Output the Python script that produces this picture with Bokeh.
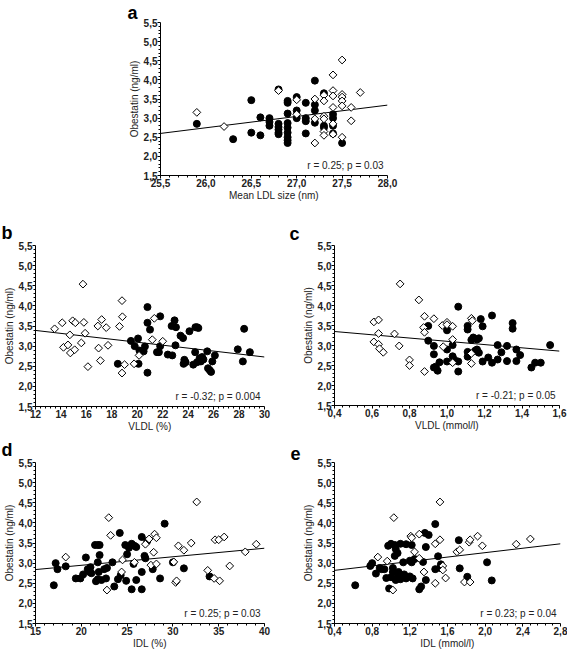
import numpy as np
from bokeh.plotting import figure
from bokeh.models import Range1d, FixedTicker, Label, Title
from bokeh.layouts import column, row
from bokeh.embed import file_html
from bokeh.resources import INLINE

FONT = "Liberation Sans"

# ---------------- shared y axis ----------------
y_ticks = [1.5, 2.0, 2.5, 3.0, 3.5, 4.0, 4.5, 5.0, 5.5]
y_tick_labels = ["1,5", "2,0", "2,5", "3,0", "3,5", "4,0", "4,5", "5,0", "5,5"]
y_title = "Obestatin (ng/ml)"

# ---------------- panel a: Mean LDL size ----------------
a_xticks = [25.5, 26.0, 26.5, 27.0, 27.5, 28.0]
a_xlabels = ["25,5", "26,0", "26,5", "27,0", "27,5", "28,0"]
a_xtitle = "Mean LDL size (nm)"
a_stat = "r = 0.25; p = 0.03"
a_fill_x = [25.9, 26.3, 26.5, 26.5, 26.6, 26.6, 26.7, 26.7, 26.7, 26.8, 26.8, 26.8, 26.8, 26.8, 26.8,
            26.9, 26.9, 26.9, 26.9, 26.9, 26.9, 26.9, 26.9, 26.9, 27.0, 27.0, 27.0, 27.1, 27.1, 27.1, 27.1,
            27.2, 27.2, 27.2, 27.2, 27.3, 27.3, 27.3, 27.4, 27.4, 27.4, 27.4, 27.5]
a_fill_y = [2.85, 2.45, 3.47, 2.62, 3.02, 2.55, 3.0, 2.9, 2.8, 3.75, 2.85, 2.77, 2.7, 2.62, 2.58,
            3.45, 3.4, 3.12, 2.87, 2.75, 2.62, 2.5, 2.42, 2.35, 3.55, 3.2, 3.0, 3.4, 3.0, 2.92, 2.6,
            3.98, 3.35, 3.2, 2.88, 3.65, 2.8, 2.75, 3.1, 3.0, 2.8, 2.6, 2.35]
a_open_x = [25.9, 26.2, 26.8, 27.0, 27.0, 27.2, 27.2, 27.2, 27.3, 27.3, 27.3, 27.3, 27.3, 27.3,
            27.4, 27.4, 27.4, 27.4, 27.4, 27.4, 27.5, 27.5, 27.5, 27.5, 27.5, 27.5, 27.6, 27.6, 27.7]
a_open_y = [3.15, 2.78, 3.72, 3.48, 3.1, 3.5, 2.98, 2.35, 3.6, 3.45, 3.05, 2.98, 2.65, 2.55,
            4.13, 3.72, 3.58, 3.28, 2.85, 2.58, 4.52, 3.62, 3.55, 3.45, 3.32, 2.5, 3.28, 2.93, 3.67]
a_fit_x = [25.5, 28.0]
a_fit_y = [2.60, 3.34]

# ---------------- panel b: VLDL (%) ----------------
b_xticks = [12, 14, 16, 18, 20, 22, 24, 26, 28, 30]
b_xlabels = ["12", "14", "16", "18", "20", "22", "24", "26", "28", "30"]
b_xtitle = "VLDL (%)"
b_stat = "r = -0.32; p = 0.004"
b_open_x = [13.5, 14.1, 14.2, 14.55, 14.7, 14.74, 14.92, 15.13, 15.08, 15.73, 15.6, 15.8, 15.9, 16.12,
            16.9, 16.96, 17.2, 17.1, 17.56, 17.7, 18.6, 18.8, 18.83, 18.8, 19.0, 19.75, 20.14, 21.18,
            21.34, 22.0]
b_open_y = [3.43, 3.58, 2.97, 3.03, 3.28, 2.83, 3.63, 3.58, 2.91, 4.54, 3.08, 3.59, 3.32, 2.49,
            3.5, 2.95, 3.66, 2.64, 3.46, 3.02, 3.49, 4.13, 3.73, 2.33, 2.54, 2.56, 2.77, 3.16,
            3.69, 3.12]
b_fill_x = [18.47, 19.5, 19.8, 20.06, 20.1, 20.17, 20.5, 20.6, 20.8, 20.8, 20.8, 21.0, 21.55, 21.7,
            21.8, 21.8, 22.4, 22.75, 22.7, 22.93, 23.04, 23.0, 23.4, 23.6, 23.7, 23.64, 23.8, 24.1,
            24.4, 24.55, 24.57, 24.7, 24.8, 24.7, 24.9, 25.0, 25.1, 25.2, 25.5, 25.56, 25.7, 25.8,
            25.9, 26.1, 27.9, 28.3, 28.4, 28.85]
b_fill_y = [2.56, 3.13, 3.0, 3.19, 2.56, 2.89, 2.87, 2.99, 3.97, 3.58, 2.34, 3.41, 2.85, 2.85,
            3.74, 3.0, 2.79, 2.77, 3.5, 3.64, 3.47, 3.02, 3.26, 3.2, 2.66, 2.56, 2.6, 3.37,
            2.54, 2.85, 3.47, 3.47, 3.45, 2.6, 2.7, 2.62, 2.73, 2.67, 2.87, 2.45, 2.4, 2.36,
            2.62, 2.77, 2.92, 2.62, 3.43, 2.85]
b_fit_x = [12, 30]
b_fit_y = [3.39, 2.73]

# ---------------- panel c: VLDL (mmol/l) ----------------
c_xticks = [0.4, 0.6, 0.8, 1.0, 1.2, 1.4, 1.6]
c_xlabels = ["0,4", "0,6", "0,8", "1,0", "1,2", "1,4", "1,6"]
c_xtitle = "VLDL (mmol/l)"
c_stat = "r = -0.21; p = 0.05"
c_open_x = [0.61, 0.635, 0.635, 0.61, 0.635, 0.64, 0.66, 0.72, 0.745, 0.75, 0.80, 0.80, 0.85,
            0.88, 0.93, 0.875, 0.88, 0.88, 0.98, 0.975, 1.0, 1.0, 1.03, 1.03, 1.03, 1.13, 1.135,
            1.13, 1.13]
c_open_y = [3.59, 3.64, 3.3, 3.09, 3.03, 2.92, 2.83, 3.29, 2.99, 4.54, 2.64, 2.5, 4.14,
            3.73, 3.67, 3.45, 3.33, 2.35, 2.97, 3.5, 3.58, 3.52, 3.48, 3.15, 2.57, 3.68, 3.62,
            2.55, 2.8]
c_fill_x = [0.9, 0.9, 0.93, 0.93, 0.93, 0.94, 0.95, 0.96, 1.0, 1.0, 1.0, 1.03, 1.03, 1.04, 1.06,
            1.06, 1.06, 1.11, 1.11, 1.11, 1.11, 1.13, 1.14, 1.15, 1.16, 1.16, 1.17, 1.17, 1.18,
            1.19, 1.19, 1.22, 1.24, 1.24, 1.27, 1.27, 1.29, 1.32, 1.32, 1.35, 1.35, 1.37, 1.37,
            1.39, 1.45, 1.47, 1.50, 1.55]
c_fill_y = [3.49, 3.12, 2.99, 2.78, 2.45, 2.47, 2.37, 2.58, 3.38, 2.9, 2.6, 3.01, 2.73, 2.64, 3.97,
            2.6, 2.35, 3.49, 3.4, 2.84, 2.72, 3.14, 3.2, 2.87, 3.15, 2.9, 2.82, 3.18, 3.66,
            3.48, 2.6, 2.7, 3.75, 2.57, 3.01, 2.65, 2.83, 2.99, 2.61, 3.56, 3.42, 2.9, 2.61,
            2.76, 2.45, 2.57, 2.57, 3.01]
c_fit_x = [0.4, 1.6]
c_fit_y = [3.35, 2.86]

# ---------------- panel d: IDL (%) ----------------
d_xticks = [15, 20, 25, 30, 35, 40]
d_xlabels = ["15", "20", "25", "30", "35", "40"]
d_xtitle = "IDL (%)"
d_stat = "r = 0.25; p = 0.03"
d_fill_x = [17.0, 17.2, 17.4, 18.3, 19.4, 19.9, 20.2, 20.5, 20.7, 20.9, 21.0, 21.1, 21.5, 21.6,
            21.8, 22.0, 21.8, 21.8, 21.9, 22.0, 22.2, 22.5, 22.8, 22.7, 23.4, 23.6, 24.0, 24.2,
            24.3, 24.8, 24.9, 25.0, 25.2, 25.5, 25.5, 25.8, 25.7, 26.0, 26.0, 26.6, 26.6, 26.6,
            26.9, 27.0, 27.2, 27.8, 28.6, 29.1, 30.0, 31.2, 34.0]
d_fill_y = [2.45, 3.0, 2.85, 2.92, 2.62, 2.62, 2.72, 3.14, 2.85, 2.78, 2.9, 2.75, 3.45, 2.55,
            3.45, 3.45, 2.6, 3.02, 2.78, 3.2, 2.58, 2.85, 2.88, 2.62, 3.02, 2.42, 2.6, 3.75,
            2.7, 3.45, 2.56, 3.22, 3.38, 3.48, 2.35, 3.43, 2.98, 2.58, 3.4, 2.78, 2.35, 3.65,
            3.18, 3.12, 3.55, 2.85, 2.62, 3.98, 3.02, 2.87, 2.67]
d_open_x = [18.3, 22.8, 23.0, 23.2, 24.4, 24.5, 25.8, 27.0, 27.4, 27.6, 27.9, 28.0, 28.2, 28.2,
            30.1, 30.3, 30.4, 30.6, 31.2, 32.0, 32.6, 33.8, 34.5, 34.6, 35.0, 35.1, 35.6, 36.2,
            37.9, 39.1]
d_open_y = [3.15, 2.33, 4.13, 3.69, 2.78, 3.08, 3.02, 3.47, 3.6, 2.95, 3.27, 3.72, 3.63, 2.98,
            3.03, 2.52, 2.56, 3.43, 3.32, 3.5, 4.52, 2.82, 2.62, 3.58, 3.58, 2.56, 3.65, 2.93,
            3.28, 3.47]
d_fit_x = [15, 40]
d_fit_y = [2.84, 3.37]

# ---------------- panel e: IDL (mmol/l) ----------------
e_xticks = [0.4, 0.8, 1.2, 1.6, 2.0, 2.4, 2.8]
e_xlabels = ["0,4", "0,8", "1,2", "1,6", "2,0", "2,4", "2,8"]
e_xtitle = "IDL (mmol/l)"
e_stat = "r = 0.23; p = 0.04"
e_fill_x = [0.62, 0.78, 0.80, 0.84, 0.88, 0.90, 0.93, 0.95, 0.97, 0.98, 1.0, 1.0, 1.02, 1.02,
            1.04, 1.04, 1.05, 1.05, 1.07, 1.07, 1.08, 1.1, 1.1, 1.13, 1.14, 1.16, 1.16, 1.2, 1.2,
            1.22, 1.23, 1.22, 1.25, 1.3, 1.32, 1.34, 1.36, 1.37, 1.37, 1.4, 1.47, 1.47, 1.5, 1.53,
            1.52, 1.72, 1.73, 1.81, 2.02, 2.07]
e_fill_y = [2.45, 2.93, 3.0, 2.74, 2.88, 2.85, 2.85, 2.63, 3.43, 2.37, 2.65, 3.48, 2.88, 2.78,
            3.45, 3.18, 3.35, 2.58, 3.25, 2.68, 2.78, 3.48, 2.6, 3.02, 2.72, 3.47, 2.62, 3.06, 2.67,
            3.45, 2.62, 3.02, 3.1, 2.35, 2.42, 3.03, 3.75, 3.4, 2.58, 3.7, 3.97, 2.85, 3.17, 2.97,
            2.88, 3.57, 2.87, 2.66, 3.02, 2.57]
e_open_x = [0.86, 0.96, 1.03, 1.02, 1.21, 1.22, 1.25, 1.3, 1.3, 1.35, 1.47, 1.47, 1.52, 1.52,
            1.55, 1.55, 1.58, 1.7, 1.73, 1.78, 1.83, 1.84, 1.84, 1.92, 1.97, 2.33, 2.48]
e_open_y = [3.15, 3.05, 4.13, 2.33, 3.67, 3.63, 3.28, 3.72, 3.12, 2.78, 3.48, 2.5, 4.52, 3.58,
            2.93, 2.83, 2.63, 3.28, 3.33, 2.53, 3.52, 3.58, 2.53, 3.67, 3.43, 3.47, 3.6]
e_fit_x = [0.4, 2.8]
e_fit_y = [2.82, 3.48]


def make_panel(letter, letter_offset, letter_standoff, xticks, xlabels, xtitle, stat,
               fill_x, fill_y, open_x, open_y, fit_x, fit_y,
               fw, fh, bl, br, bt, bb):
    p = figure(frame_width=fw, frame_height=fh,
               min_border_left=bl, min_border_right=br, min_border_top=bt, min_border_bottom=bb,
               x_range=Range1d(xticks[0], xticks[-1]), y_range=Range1d(y_ticks[0], y_ticks[-1]),
               output_backend="svg", toolbar_location=None)
    p.title = Title(text=letter, align="left", offset=letter_offset, standoff=letter_standoff,
                    text_font=FONT, text_font_size="18px", text_font_style="bold",
                    text_color="black")
    p.outline_line_color = None
    p.grid.visible = False
    p.background_fill_color = "white"
    p.border_fill_color = "white"

    xstep = xticks[1] - xticks[0]
    xminor = list(np.arange(xticks[0], xticks[-1] + 1e-9, xstep / 5))
    ystep = y_ticks[1] - y_ticks[0]
    yminor = list(np.arange(y_ticks[0], y_ticks[-1] + 1e-9, ystep / 5))
    p.xaxis.ticker = FixedTicker(ticks=xticks, minor_ticks=xminor)
    p.yaxis.ticker = FixedTicker(ticks=y_ticks, minor_ticks=yminor)
    p.xaxis.major_label_overrides = {float(t): l for t, l in zip(xticks, xlabels)}
    p.xaxis.major_label_overrides.update({int(t): l for t, l in zip(xticks, xlabels) if float(t).is_integer()})
    p.yaxis.major_label_overrides = {float(t): l for t, l in zip(y_ticks, y_tick_labels)}
    p.xaxis.axis_label = xtitle
    p.yaxis.axis_label = y_title
    for ax in (p.xaxis, p.yaxis):
        ax.axis_line_color = "black"
        ax.axis_line_width = 1
        ax.major_tick_line_color = "black"
        ax.minor_tick_line_color = "black"
        ax.major_tick_out = 3
        ax.major_tick_in = 0
        ax.minor_tick_out = 2
        ax.minor_tick_in = 0
        ax.major_label_text_font = FONT
        ax.major_label_text_font_size = "10px"
        ax.major_label_text_font_style = "bold"
        ax.major_label_text_color = "#222222"
        ax.axis_label_text_font = FONT
        ax.axis_label_text_font_size = "10px"
        ax.axis_label_text_font_style = "normal"
        ax.axis_label_text_color = "#222222"
        ax.major_label_standoff = 0
        ax.axis_label_standoff = 1
    p.xaxis.axis_label_standoff = 0
    p.yaxis.major_label_orientation = "horizontal"

    p.line(fit_x, fit_y, line_color="black", line_width=1)
    p.scatter(fill_x, fill_y, marker="circle", size=7, fill_color="black", line_color="black")
    p.scatter(open_x, open_y, marker="square", size=5.5, angle=np.pi / 4,
              fill_color="white", line_color="black", line_width=1)

    p.add_layout(Label(x=xticks[-1], y=y_ticks[0], x_offset=-4, y_offset=5, text=stat,
                       text_align="right", text_baseline="bottom", text_font=FONT,
                       text_font_size="10px", text_color="#222222"))
    return p


pa = make_panel("a", -33, 0, a_xticks, a_xlabels, a_xtitle, a_stat,
                a_fill_x, a_fill_y, a_open_x, a_open_y, a_fit_x, a_fit_y,
                227, 153, 160, 20, 12, 42)
pb = make_panel("b", -34, 6, b_xticks, b_xlabels, b_xtitle, b_stat,
                b_fill_x, b_fill_y, b_open_x, b_open_y, b_fit_x, b_fit_y,
                229, 161, 33, 20, 27, 28)
pc = make_panel("c", -45, 3, c_xticks, c_xlabels, c_xtitle, c_stat,
                c_fill_x, c_fill_y, c_open_x, c_open_y, c_fit_x, c_fit_y,
                225, 160, 50, 8, 28, 29)
pd = make_panel("d", -34, 6, d_xticks, d_xlabels, d_xtitle, d_stat,
                d_fill_x, d_fill_y, d_open_x, d_open_y, d_fit_x, d_fit_y,
                229, 161, 32, 20, 27, 27)
pe = make_panel("e", -44, 6, e_xticks, e_xlabels, e_xtitle, e_stat,
                e_fill_x, e_fill_y, e_open_x, e_open_y, e_fit_x, e_fit_y,
                226, 161, 50, 8, 27, 27)

layout = column(pa, row(pb, pc), row(pd, pe))

open("out.html", "w").write(file_html(layout, INLINE))
